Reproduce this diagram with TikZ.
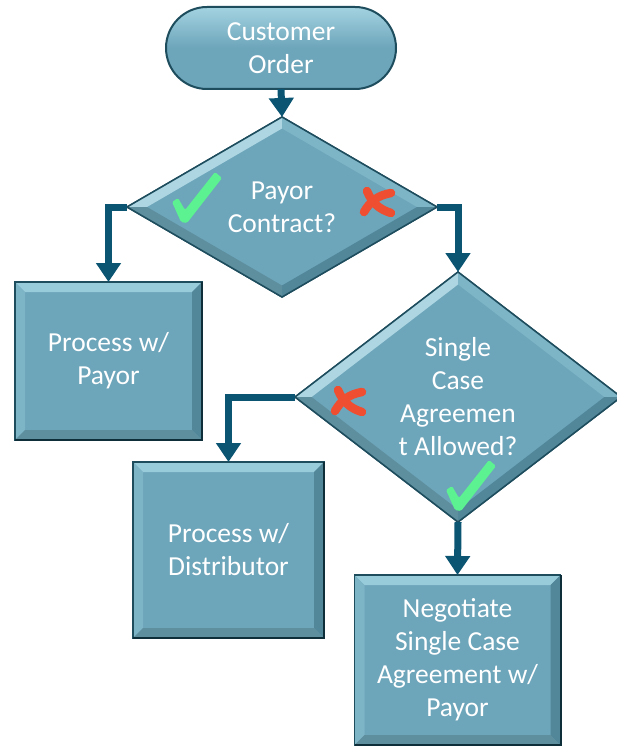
\documentclass[tikz,border=0pt]{standalone}
\usepackage{fontspec}
\setmainfont{Carlito}
\usetikzlibrary{calc,arrows.meta,shapes.geometric,shapes.misc}

\definecolor{boxfill}{HTML}{6DA5BA}
\definecolor{boxline}{HTML}{1E4D5E}
\definecolor{boxdark}{HTML}{0E2E3A}
\definecolor{arrowblue}{HTML}{0B5573}
\definecolor{bevtop}{HTML}{98CCDB}
\definecolor{bevleft}{HTML}{7DB4C6}
\definecolor{bevright}{HTML}{52879A}
\definecolor{bevbottom}{HTML}{5E8F9E}
\definecolor{termtop}{HTML}{A3D3E1}
\definecolor{okgreen}{HTML}{5CF291}
\definecolor{nored}{HTML}{F04E30}

% bevelled edges of a box node
\newcommand{\bevelrect}[1]{%
  \fill[bevtop] (#1.north west) -- (#1.north east) -- ($(#1.north east)+(-10,10)$) -- ($(#1.north west)+(10,10)$) -- cycle;
  \fill[bevleft] (#1.north west) -- ($(#1.north west)+(10,10)$) -- ($(#1.south west)+(10,-10)$) -- (#1.south west) -- cycle;
  \fill[bevright] (#1.north east) -- ($(#1.north east)+(-10,10)$) -- ($(#1.south east)+(-10,-10)$) -- (#1.south east) -- cycle;
  \fill[bevbottom] (#1.south west) -- ($(#1.south west)+(10,-10)$) -- ($(#1.south east)+(-10,-10)$) -- (#1.south east) -- cycle;
  \draw[edge] (#1.north west) rectangle (#1.south east);
  \draw[edgedark] (#1.north east) -- (#1.south east) -- (#1.south west);
}
% bevelled edges of a diamond node: #2, #3 = inset in x and y
\newcommand{\beveldiam}[3]{%
  \fill[bevtop!80!white] (#1.west) -- (#1.north) -- ($(#1.north)+(0,#3)$) -- ($(#1.west)+(#2,0)$) -- cycle;
  \fill[bevleft] (#1.north) -- (#1.east) -- ($(#1.east)+(-#2,0)$) -- ($(#1.north)+(0,#3)$) -- cycle;
  \fill[bevright] (#1.east) -- (#1.south) -- ($(#1.south)+(0,-#3)$) -- ($(#1.east)+(-#2,0)$) -- cycle;
  \fill[bevbottom] (#1.south) -- (#1.west) -- ($(#1.west)+(#2,0)$) -- ($(#1.south)+(0,-#3)$) -- cycle;
  \draw[edge] (#1.north) -- (#1.east) -- (#1.south) -- (#1.west) -- cycle;
}

\tikzset{
  flowbox/.style={fill=boxfill, draw=boxline, line width=1.5pt, text=white, align=center,
    inner sep=0pt, outer sep=0pt, font=\fontsize{27.5}{33}\selectfont},
  proc/.style={flowbox, rectangle},
  decision/.style={flowbox, diamond},
  term/.style={flowbox, rounded rectangle, top color=termtop, bottom color=boxfill, middle color=boxfill, draw=boxline, line width=2pt},
  edge/.style={draw=boxline, line width=1.5pt},
  edgedark/.style={draw=boxdark, line width=2pt},
  flow/.style={draw=arrowblue, line width=7pt, -{Triangle[width=24pt,length=19pt]}},
  okmark/.pic={\fill[okgreen, rounded corners=1.5pt] (-12,-20) -- (-6,-24) -- (1,-12) -- (31,-50) -- (38,-44) -- (3,1) -- (-3,0) -- cycle;},
  nomark/.pic={\draw[nored, line width=8.5pt, line cap=round] (-11,-12) to[bend right=25] (13,10);
    \draw[nored, line width=8.5pt, line cap=round] (13,-10) to[bend right=25] (-14,9);}
}

\begin{document}
\begin{tikzpicture}[x=1pt,y=-1pt,line join=miter]
\useasboundingbox (0,0) rectangle (617,746);
% start
\node[term, minimum width=230pt, minimum height=82pt] (order) at (281,48) {Customer\\Order};
% decisions
\node[decision, minimum width=310pt, minimum height=180pt] (payor) at (282,207) {Payor\\Contract?};
\node[decision, minimum width=326pt, minimum height=250pt] (single) at (458,397) {Single\\Case\\Agreemen\\t Allowed?};
% process boxes
\node[proc, minimum width=187pt, minimum height=158pt] (withpayor) at (108.5,361) {Process w/\\Payor};
\node[proc, minimum width=191pt, minimum height=176pt] (withdist) at (228.5,550) {Process w/\\Distributor};
\node[proc, minimum width=206pt, minimum height=170pt] (negotiate) at (457.5,660) {Negotiate\\Single Case\\Agreement w/\\Payor};
% bevels
\bevelrect{withpayor}
\bevelrect{withdist}
\bevelrect{negotiate}
\beveldiam{payor}{20}{11.5}
\beveldiam{single}{16.6}{12.5}
% connectors
\draw[flow] (order.south) -- (payor.north);
\draw[flow] (payor.west) -| (withpayor.north);
\draw[flow] (payor.east) -| (single.north);
\draw[flow] (single.west) -| (withdist.north);
\draw[flow] (single.south) -- (negotiate.north);
% yes / no marks
\pic at (184,222) {okmark};
\pic at (458,510) {okmark};
\pic at (378,203) {nomark};
\pic at (349,402) {nomark};
\end{tikzpicture}
\end{document}
